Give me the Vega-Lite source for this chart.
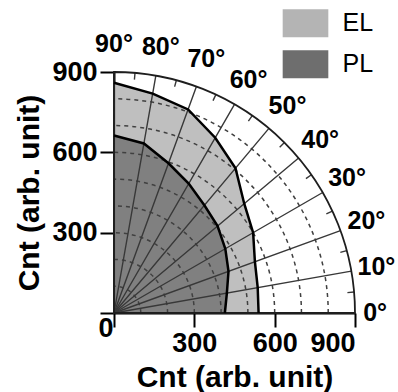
{
  "$schema": "https://vega.github.io/schema/vega-lite/v6.json",
  "width": 241,
  "height": 241,
  "autosize": {"type": "none"},
  "padding": {"left": 114, "top": 72, "right": 43, "bottom": 79},
  "background": "white",
  "datasets": {
    "poly": [
      {"s": "EL", "a": 0, "x": 540, "y": 0},
      {"s": "EL", "a": 10, "x": 536.7, "y": 94.6},
      {"s": "EL", "a": 20, "x": 526.2, "y": 191.5},
      {"s": "EL", "a": 30, "x": 519.6, "y": 300},
      {"s": "EL", "a": 40, "x": 486.4, "y": 408.2},
      {"s": "EL", "a": 50, "x": 453.8, "y": 540.8},
      {"s": "EL", "a": 60, "x": 378, "y": 654.7},
      {"s": "EL", "a": 70, "x": 276.7, "y": 760.2},
      {"s": "EL", "a": 80, "x": 144.5, "y": 819.4},
      {"s": "EL", "a": 90, "x": 0, "y": 860},
      {"s": "PL", "a": 0, "x": 414, "y": 0},
      {"s": "PL", "a": 10, "x": 421.5, "y": 74.3},
      {"s": "PL", "a": 20, "x": 427.6, "y": 155.6},
      {"s": "PL", "a": 30, "x": 415.7, "y": 240},
      {"s": "PL", "a": 40, "x": 386.9, "y": 324.6},
      {"s": "PL", "a": 50, "x": 337.5, "y": 402.2},
      {"s": "PL", "a": 60, "x": 279, "y": 483.2},
      {"s": "PL", "a": 70, "x": 203.5, "y": 559.1},
      {"s": "PL", "a": 80, "x": 111.7, "y": 633.2},
      {"s": "PL", "a": 90, "x": 0, "y": 663}
    ],
    "circles": [
      {"r": 100, "t0": 0, "t1": 90},
      {"r": 200, "t0": 0, "t1": 90},
      {"r": 300, "t0": 0, "t1": 90},
      {"r": 400, "t0": 0, "t1": 90},
      {"r": 500, "t0": 0, "t1": 90},
      {"r": 600, "t0": 0, "t1": 90},
      {"r": 700, "t0": 0, "t1": 90},
      {"r": 800, "t0": 0, "t1": 90}
    ],
    "outer": [{"r": 900, "t0": 0, "t1": 90}],
    "spokes": [
      {"a": 0, "r": 900}, {"a": 10, "r": 900}, {"a": 20, "r": 900}, {"a": 30, "r": 900}, {"a": 40, "r": 900},
      {"a": 50, "r": 900}, {"a": 60, "r": 900}, {"a": 70, "r": 900}, {"a": 80, "r": 900}, {"a": 90, "r": 900}
    ],
    "ticks": [
      {"a": 5, "r": 900, "r2": 875}, {"a": 15, "r": 900, "r2": 875}, {"a": 25, "r": 900, "r2": 875},
      {"a": 35, "r": 900, "r2": 875}, {"a": 45, "r": 900, "r2": 875}, {"a": 55, "r": 900, "r2": 875},
      {"a": 65, "r": 900, "r2": 875}, {"a": 75, "r": 900, "r2": 875}, {"a": 85, "r": 900, "r2": 875}
    ],
    "labels": [
      {"a": 0, "lr": 975, "t": "0°"},
      {"a": 10, "lr": 995, "t": "10°"},
      {"a": 20, "lr": 1003, "t": "20°"},
      {"a": 30, "lr": 1005, "t": "30°"},
      {"a": 40, "lr": 1005, "t": "40°"},
      {"a": 50, "lr": 1008, "t": "50°"},
      {"a": 60, "lr": 1005, "t": "60°"},
      {"a": 70, "lr": 1008, "t": "70°"},
      {"a": 80, "lr": 1008, "t": "80°"},
      {"a": 90, "lr": 1005, "t": "90°"}
    ]
  },
  "layer": [
    {
      "data": {"name": "poly"},
      "transform": [{"filter": "datum.s == 'EL'"}],
      "mark": {"type": "area", "orient": "horizontal", "fillOpacity": 0.85},
      "encoding": {
        "y": {"field": "y", "type": "quantitative", "scale": {"domain": [0, 900], "nice": false},
          "axis": {"values": [0, 300, 600, 900], "title": "Cnt (arb. unit)", "labelExpr": "datum.value == 0 ? '' : datum.label", "titlePadding": 7}},
        "x": {"field": "x", "type": "quantitative", "stack": null, "scale": {"domain": [0, 900], "nice": false},
          "axis": {"values": [0, 300, 600, 900], "title": "Cnt (arb. unit)", "titlePadding": 6,
            "labelOffset": {"condition": {"test": "datum.value == 0", "value": -16}, "value": 0},
            "labelPadding": {"condition": {"test": "datum.value == 0", "value": -12}, "value": 3}}},
        "x2": {"datum": 0},
        "color": {"field": "s", "type": "nominal", "scale": {"domain": ["EL", "PL"], "range": ["#b4b4b4", "#6e6e6e"]}}
      }
    },
    {
      "data": {"name": "poly"},
      "transform": [{"filter": "datum.s == 'PL'"}],
      "mark": {"type": "area", "orient": "horizontal", "fillOpacity": 0.78},
      "encoding": {
        "y": {"field": "y", "type": "quantitative", "scale": {"domain": [0, 900], "nice": false}},
        "x": {"field": "x", "type": "quantitative", "stack": null, "scale": {"domain": [0, 900], "nice": false}},
        "x2": {"datum": 0},
        "color": {"field": "s", "type": "nominal", "scale": {"domain": ["EL", "PL"], "range": ["#b4b4b4", "#6e6e6e"]}}
      }
    },
    {
      "data": {"name": "circles"},
      "mark": {"type": "arc", "filled": false, "stroke": "#404040", "strokeWidth": 1.5, "strokeDash": [4, 4]},
      "encoding": {
        "x": {"datum": 0, "type": "quantitative", "scale": {"domain": [0, 900], "nice": false}},
        "y": {"datum": 0, "type": "quantitative", "scale": {"domain": [0, 900], "nice": false}},
        "theta": {"field": "t0", "type": "quantitative", "stack": null, "scale": {"type": "linear", "domain": [0, 90], "range": [1.5707963267948966, 0]}},
        "theta2": {"field": "t1"},
        "radius": {"field": "r", "type": "quantitative", "scale": {"type": "linear", "domain": [0, 900], "range": [0, {"expr": "width"}]}}
      }
    },
    {
      "data": {"name": "spokes"},
      "mark": {"type": "arc", "filled": false, "stroke": "#383838", "strokeWidth": 1.4},
      "encoding": {
        "x": {"datum": 0, "type": "quantitative", "scale": {"domain": [0, 900], "nice": false}},
        "y": {"datum": 0, "type": "quantitative", "scale": {"domain": [0, 900], "nice": false}},
        "theta": {"field": "a", "type": "quantitative", "stack": null, "scale": {"type": "linear", "domain": [0, 90], "range": [1.5707963267948966, 0]}},
        "theta2": {"field": "a"},
        "radius": {"field": "r", "type": "quantitative", "scale": {"type": "linear", "domain": [0, 900], "range": [0, {"expr": "width"}]}}
      }
    },
    {
      "data": {"name": "ticks"},
      "mark": {"type": "arc", "filled": false, "stroke": "#383838", "strokeWidth": 1.4},
      "encoding": {
        "x": {"datum": 0, "type": "quantitative", "scale": {"domain": [0, 900], "nice": false}},
        "y": {"datum": 0, "type": "quantitative", "scale": {"domain": [0, 900], "nice": false}},
        "theta": {"field": "a", "type": "quantitative", "stack": null, "scale": {"type": "linear", "domain": [0, 90], "range": [1.5707963267948966, 0]}},
        "theta2": {"field": "a"},
        "radius": {"field": "r", "type": "quantitative", "scale": {"type": "linear", "domain": [0, 900], "range": [0, {"expr": "width"}]}},
        "radius2": {"field": "r2"}
      }
    },
    {
      "data": {"name": "outer"},
      "mark": {"type": "arc", "filled": false, "stroke": "#1e1e1e", "strokeWidth": 1.8},
      "encoding": {
        "x": {"datum": 0, "type": "quantitative", "scale": {"domain": [0, 900], "nice": false}},
        "y": {"datum": 0, "type": "quantitative", "scale": {"domain": [0, 900], "nice": false}},
        "theta": {"field": "t0", "type": "quantitative", "stack": null, "scale": {"type": "linear", "domain": [0, 90], "range": [1.5707963267948966, 0]}},
        "theta2": {"field": "t1"},
        "radius": {"field": "r", "type": "quantitative", "scale": {"type": "linear", "domain": [0, 900], "range": [0, {"expr": "width"}]}}
      }
    },
    {
      "data": {"name": "poly"},
      "mark": {"type": "line", "color": "#000000", "strokeWidth": 2.5},
      "encoding": {
        "x": {"field": "x", "type": "quantitative", "scale": {"domain": [0, 900], "nice": false}},
        "y": {"field": "y", "type": "quantitative", "scale": {"domain": [0, 900], "nice": false}},
        "detail": {"field": "s"},
        "order": {"field": "a", "type": "quantitative"}
      }
    },
    {
      "data": {"name": "labels"},
      "mark": {"type": "text", "font": "Liberation Sans", "fontWeight": "bold", "fontSize": 25, "align": "center", "baseline": "middle", "color": "#000000"},
      "encoding": {
        "x": {"datum": 0, "type": "quantitative", "scale": {"domain": [0, 900], "nice": false}},
        "y": {"datum": 0, "type": "quantitative", "scale": {"domain": [0, 900], "nice": false}},
        "theta": {"field": "a", "type": "quantitative", "stack": null, "scale": {"type": "linear", "domain": [0, 90], "range": [1.5707963267948966, 0]}},
        "radius": {"field": "lr", "type": "quantitative", "scale": {"type": "linear", "domain": [0, 900], "range": [0, {"expr": "width"}]}},
        "text": {"field": "t"}
      }
    }
  ],
  "config": {
    "font": "Liberation Sans",
    "view": {"stroke": null},
    "axis": {
      "grid": false,
      "zindex": 1,
      "domainColor": "#000000",
      "domainWidth": 2,
      "tickColor": "#000000",
      "tickWidth": 2,
      "tickSize": 14,
      "labelFont": "Liberation Sans",
      "labelFontWeight": "bold",
      "labelFontSize": 27,
      "labelColor": "#000000",
      "labelPadding": 3,
      "titleFont": "Liberation Sans",
      "titleFontWeight": "bold",
      "titleFontSize": 30,
      "titleColor": "#000000"
    },
    "legend": {
      "orient": "none",
      "legendX": 177.5,
      "legendY": -62.7,
      "title": null,
      "padding": 0,
      "symbolType": "M-1.63,-1H1.63V1H-1.63Z",
      "symbolSize": 784,
      "symbolStrokeWidth": 0,
      "labelFont": "Liberation Sans",
      "labelFontSize": 25,
      "labelColor": "#000000",
      "labelOffset": 23,
      "rowPadding": 13
    }
  }
}
